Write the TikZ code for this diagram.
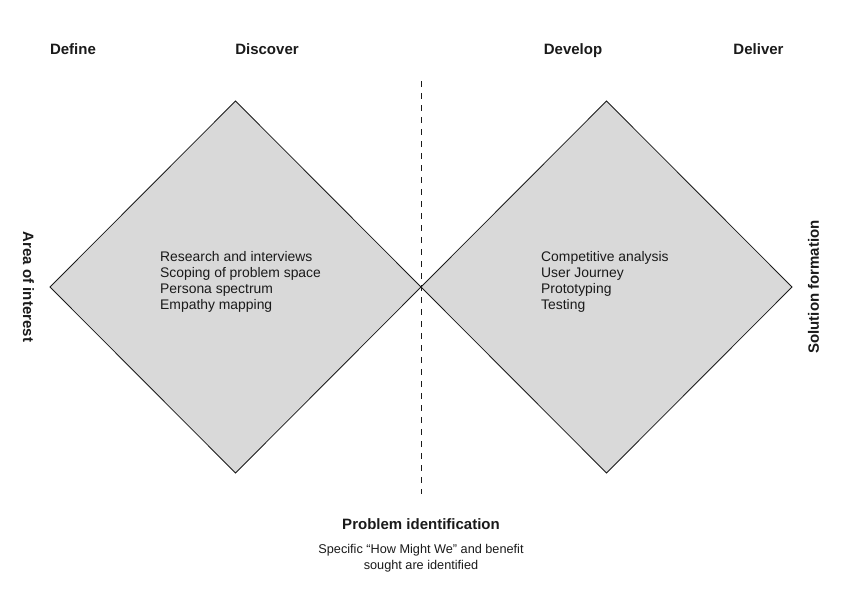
\documentclass[tikz,border=0pt]{standalone}
\usepackage{fontspec}
\setmainfont{Liberation Sans}
\usetikzlibrary{shapes.geometric}
\definecolor{diamondfill}{HTML}{D9D9D9}
\definecolor{ink}{HTML}{1A1A1A}
\begin{document}
\begin{tikzpicture}[x=1pt,y=-1pt,
  phase/.style={font=\fontsize{15}{18}\selectfont\bfseries, anchor=base, inner sep=0, text=ink},
  sidelabel/.style={font=\fontsize{15}{18}\selectfont\bfseries, anchor=center, inner sep=0, text=ink},
  stage/.style={diamond, draw=ink, line width=0.8pt, fill=diamondfill, minimum width=371pt, minimum height=372pt, inner sep=0, outer sep=0},
  items/.style={font=\fontsize{13.9}{16}\selectfont, align=left, anchor=north west, inner sep=0, text=ink},
  divider/.style={draw=ink, line width=1pt, dash pattern=on 6pt off 6pt},
  caption/.style={font=\fontsize{12.7}{16}\selectfont, align=center, anchor=north, inner sep=0, text=ink}
]
\useasboundingbox (0,0) rectangle (842,595);

% phase titles
\node[phase] (define) at (73,54) {Define};
\node[phase] (discover) at (267,54) {Discover};
\node[phase] (develop) at (573,54) {Develop};
\node[phase] (deliver) at (758.5,54) {Deliver};

% diamonds
\node[stage] (left) at (235.5,287) {};
\node[stage] (right) at (606.5,287) {};

% divider
\coordinate (dtop) at (421,81);
\coordinate (dbot) at (421,494);
\draw[divider] (dtop) -- (dbot);

% diamond contents
\node[items] (leftitems) at (160,251.5) {Research and interviews\\Scoping of problem space\\Persona spectrum\\Empathy mapping};
\node[items] (rightitems) at (541,251.5) {Competitive analysis\\User Journey\\Prototyping\\Testing};

% side labels
\node[sidelabel, rotate=-90] (aoi) at (28.5,287) {Area of interest};
\node[sidelabel, rotate=90] (sol) at (813.5,287) {Solution formation};

% bottom
\node[phase] (problem) at (421,529) {Problem identification};
\node[caption] (cap) at (421,544) {Specific “How Might We” and benefit\\sought are identified};
\end{tikzpicture}
\end{document}
